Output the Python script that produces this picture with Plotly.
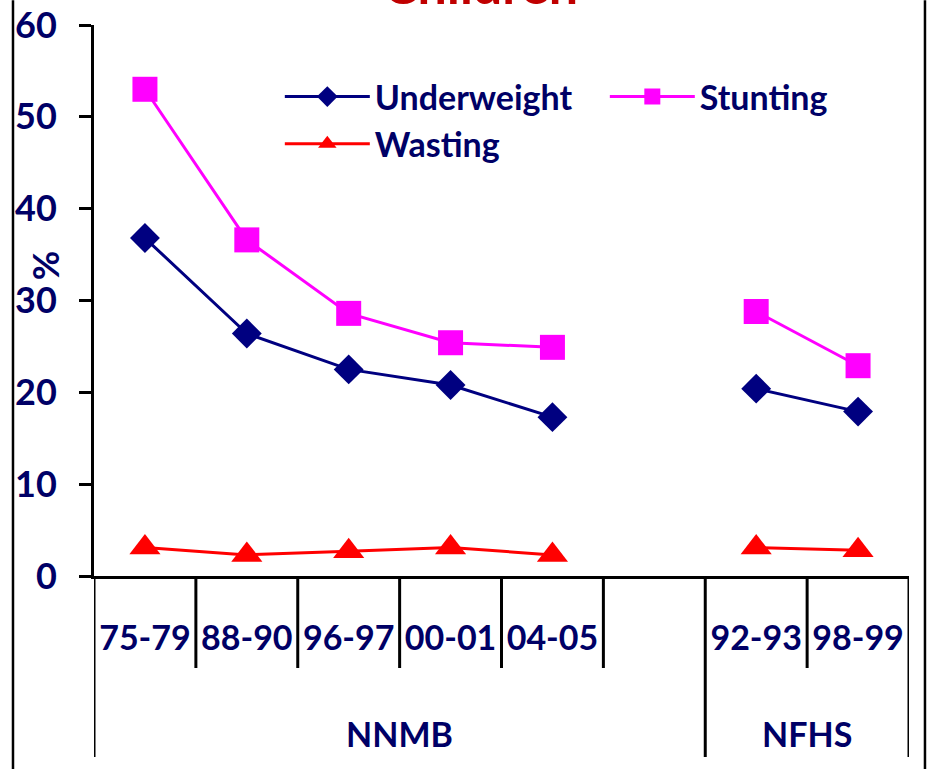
import plotly.graph_objects as go

categories = ["75-79", "88-90", "96-97", "00-01", "04-05", "", "92-93", "98-99"]
groups = ["NNMB", "NFHS"]
underweight = [36.8, 26.4, 22.5, 20.8, 17.3, None, 20.4, 17.9]
stunting = [53.0, 36.6, 28.6, 25.4, 24.9, None, 28.8, 22.9]
wasting = [3.1, 2.3, 2.7, 3.1, 2.3, None, 3.1, 2.8]
y_ticks = [0, 10, 20, 30, 40, 50, 60]

NAVY_TXT = "#000066"
FONT = "Liberation Sans Narrow, Lato, Arial"
x_idx = list(range(len(categories)))

fig = go.Figure()
fig.add_trace(go.Scatter(x=x_idx, y=underweight, name="Underweight", mode="lines+markers",
                         line=dict(color="#000080", width=3),
                         marker=dict(symbol="diamond", size=23, color="#000080"),
                         connectgaps=False))
fig.add_trace(go.Scatter(x=x_idx, y=stunting, name="Stunting", mode="lines+markers",
                         line=dict(color="#FF00FF", width=3),
                         marker=dict(symbol="square", size=25, color="#FF00FF"),
                         connectgaps=False))
fig.add_trace(go.Scatter(x=x_idx, y=wasting, name="Wasting", mode="lines+markers",
                         line=dict(color="#FF0000", width=3),
                         marker=dict(symbol="triangle-up", size=27, color="#FF0000"),
                         connectgaps=False))

shapes = []
# category dividers
for b in [0.5, 1.5, 2.5, 3.5, 4.5, 6.5]:
    shapes.append(dict(type="line", xref="x", yref="paper", x0=b, x1=b, y0=0, y1=-0.167,
                       line=dict(color="black", width=3)))
for b in [-0.5, 5.5, 7.5]:
    shapes.append(dict(type="line", xref="x", yref="paper", x0=b, x1=b, y0=0, y1=-0.3285,
                       line=dict(color="black", width=3)))
# slide frame lines
for xp in [-0.0994, 1.0196]:
    shapes.append(dict(type="line", xref="paper", yref="paper", x0=xp, x1=xp, y0=-0.355, y1=1.045,
                       layer="above", line=dict(color="black", width=2.5)))

annotations = [
    dict(text=groups[0], x=2.5, y=-0.285, xref="x", yref="paper", showarrow=False,
         xanchor="center", yanchor="middle",
         font=dict(family=FONT, size=34, color=NAVY_TXT, weight="bold")),
    dict(text=groups[1], x=6.5, y=-0.285, xref="x", yref="paper", showarrow=False,
         xanchor="center", yanchor="middle",
         font=dict(family=FONT, size=34, color=NAVY_TXT, weight="bold")),
    dict(text="%", x=-0.06, y=0.564, xref="paper", yref="paper", showarrow=False, textangle=-90,
         xanchor="center", yanchor="middle",
         font=dict(family=FONT, size=36, color=NAVY_TXT, weight="bold")),
    dict(text="Children", x=0.474, y=1.0145, xref="paper", yref="paper", showarrow=False,
         xanchor="center", yanchor="bottom",
         font=dict(family=FONT, size=52, color="#C00000", weight="bold")),
]

fig.update_layout(
    width=928, height=769,
    margin=dict(l=94, r=19, t=25, b=193, autoexpand=False),
    paper_bgcolor="white", plot_bgcolor="white",
    showlegend=True,
    legend=dict(orientation="h", x=0.228, y=0.922, xanchor="left", yanchor="top",
                entrywidth=225, entrywidthmode="pixels", itemwidth=85,
                font=dict(family=FONT, size=34, color=NAVY_TXT, weight="bold"),
                bgcolor="rgba(0,0,0,0)", tracegroupgap=0),
    shapes=shapes, annotations=annotations,
)
fig.update_xaxes(range=[-0.5, 7.5], tickvals=x_idx, ticktext=categories, ticks="",
                 showgrid=False, zeroline=False, showline=True, linecolor="black", linewidth=3,
                 ticklabelstandoff=30, automargin=False,
                 tickfont=dict(family=FONT, size=34, color=NAVY_TXT, weight="bold"))
fig.update_yaxes(range=[0, 60], tickvals=y_ticks, ticks="outside", ticklen=12, tickwidth=3,
                 tickcolor="black", showgrid=False, zeroline=False, showline=True,
                 linecolor="black", linewidth=3, ticklabelstandoff=15, automargin=False,
                 tickfont=dict(family=FONT, size=36, color=NAVY_TXT, weight="bold"))

fig.write_html("out.html")
